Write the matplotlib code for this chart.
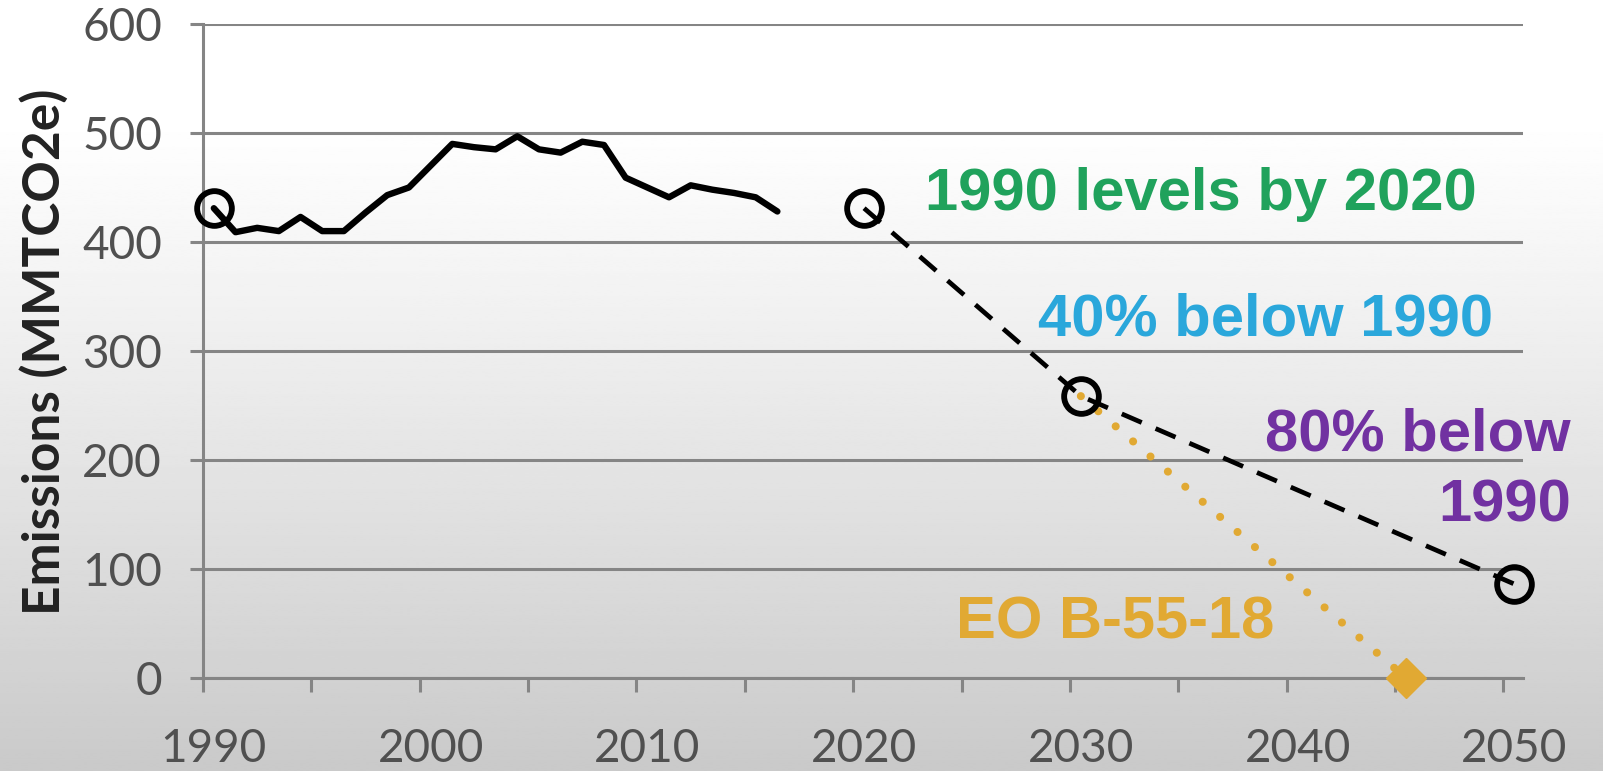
import numpy as np
import matplotlib
matplotlib.use("Agg")
import matplotlib.pyplot as plt
from matplotlib.ticker import FixedLocator

# ---- data ----
hist_years = list(range(1990, 2017))
hist_values = [431, 409, 413, 410, 423, 410, 410, 427, 443, 450,
               470, 490, 487, 485, 497, 485, 482, 492, 489, 459,
               450, 441, 452, 448, 445, 441, 428]
target_years = [1990, 2020, 2030, 2050]
target_values = [431, 431, 258.6, 86.2]
path_years = [2020, 2030, 2050]
path_values = [431, 258.6, 86.2]
eo_years = [2030, 2045]
eo_values = [258.6, 0]
xtick_years = [1990, 2000, 2010, 2020, 2030, 2040, 2050]
ytick_values = [0, 100, 200, 300, 400, 500, 600]

GREEN = "#20A25C"
BLUE = "#2AA7DB"
PURPLE = "#7131A1"
GOLD = "#E1A933"
GRID = "#858585"
TICKC = "#505050"

fig = plt.figure(figsize=(16.03, 7.71), dpi=100)

# background gradient
bg = fig.add_axes([0, 0, 1, 1], zorder=-10)
t = np.linspace(0, 1, 400)[:, None]
g = 1.0 - 0.21 * np.clip((t - 0.15) / 0.85, 0, 1) ** 1.1
bg.imshow(np.repeat(g, 2, axis=1), cmap="gray", vmin=0, vmax=1,
          aspect="auto", extent=[0, 1, 0, 1])
bg.axis("off")

ax = fig.add_axes([203 / 1603, 1 - 678 / 771, (1523 - 203) / 1603, (678 - 24) / 771])
ax.patch.set_alpha(0)

ax.set_xlim(1989.5, 2050.4)
ax.set_ylim(0, 600)

# grid
ax.yaxis.set_major_locator(FixedLocator(ytick_values))
ax.yaxis.grid(True, color=GRID, lw=2.2, zorder=0)
ax.set_axisbelow(True)
for s in ["top", "right"]:
    ax.spines[s].set_visible(False)
for s in ["left", "bottom"]:
    ax.spines[s].set_color(GRID)
    ax.spines[s].set_linewidth(2.2)

ax.tick_params(axis="y", length=9.5, width=2.2, color=GRID, pad=20,
               labelsize=33, labelcolor=TICKC)
ax.xaxis.set_major_locator(FixedLocator(xtick_years))
ax.xaxis.set_minor_locator(FixedLocator([y - 0.5 for y in range(1990, 2051, 5)]))
ax.tick_params(axis="x", which="major", length=0, pad=36,
               labelsize=33, labelcolor=TICKC)
ax.tick_params(axis="x", which="minor", length=10, width=2.2, color=GRID)
for lab in ax.get_xticklabels() + ax.get_yticklabels():
    lab.set_fontfamily("Lato")

# lines
ax.plot(hist_years, hist_values, color="black", lw=4.6, solid_joinstyle="round",
        solid_capstyle="round", zorder=4)
ax.plot(path_years, path_values, color="black", lw=3.4,
        linestyle=(0, (4.6, 3.2)), zorder=4)
ax.plot(eo_years, eo_values, color=GOLD, lw=5.8, linestyle=(0, (0.01, 2.85)),
        dash_capstyle="round", zorder=3)
ax.plot(eo_years[-1:], eo_values[-1:], linestyle="none", marker="D", ms=20,
        color=GOLD, zorder=5, clip_on=False)
ax.plot(target_years, target_values, linestyle="none", marker="o", ms=25,
        mfc="none", mec="black", mew=4.2, zorder=6, clip_on=False)

# annotations
tfont = dict(family="Liberation Sans", weight="bold", fontsize=43)
ax.text(2022.8, 429, "1990 levels by 2020", color=GREEN, ha="left", va="baseline", **tfont)
ax.text(2049.0, 314.5, "40% below 1990", color=BLUE, ha="right", va="baseline", **tfont)
ax.text(2052.6, 209, "80% below", color=PURPLE, ha="right", va="baseline", clip_on=False, **tfont)
ax.text(2052.6, 144, "1990", color=PURPLE, ha="right", va="baseline", clip_on=False, **tfont)
ax.text(2024.25, 36.5, "EO B-55-18", color=GOLD, ha="left", va="baseline", **tfont)

fig.text(44 / 1603, 1 - 352 / 771, "Emissions (MMTCO2e)", rotation=90,
         ha="center", va="center", fontsize=37, fontweight="bold",
         family="Lato", color="#222222")

fig.savefig("out.png", dpi=100)
